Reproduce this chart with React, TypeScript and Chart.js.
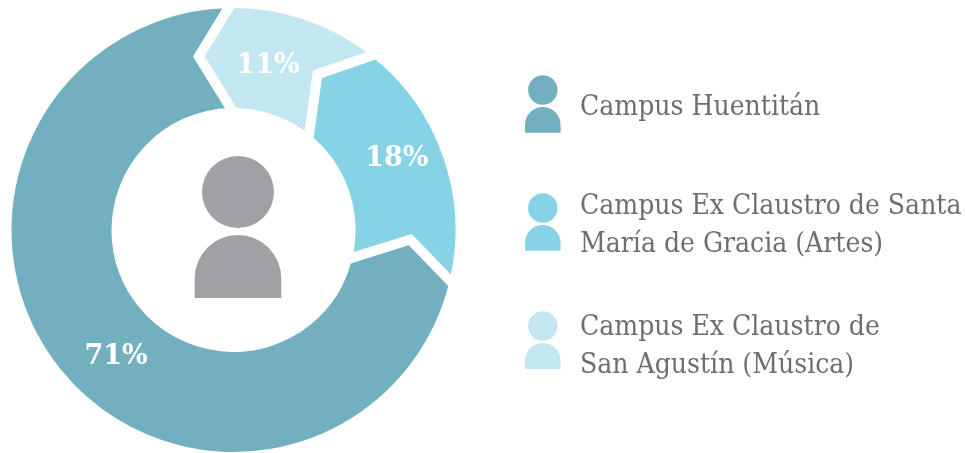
import React, { useEffect, useRef } from "react";
import { Chart, registerables } from "chart.js";

Chart.register(...registerables);

const campusLabels = [
  "Campus Ex Claustro de San Agustín (Música)",
  "Campus Ex Claustro de Santa María de Gracia (Artes)",
  "Campus Huentitán",
];
const shares = [11, 18, 71];
const shareLabels = ["11%", "18%", "71%"];
const sliceColors = ["#c2e7f0", "#87d3e6", "#72b0bf"];
const legendOrder = [2, 1, 0];
const legendLines = [
  ["Campus Ex Claustro de", "San Agustín (Música)"],
  ["Campus Ex Claustro de Santa", "María de Gracia (Artes)"],
  ["Campus Huentitán"],
];

const RAD = Math.PI / 180;
const TEXT_FONT = '28px "DejaVu Serif Condensed"';
const PCT_FONT = 'bold 27px "DejaVu Serif"';

function person(ctx: CanvasRenderingContext2D, cx: number, headY: number, headR: number, bodyR: number, bodyTop: number, bodyBottom: number, color: string) {
  ctx.fillStyle = color;
  ctx.beginPath();
  ctx.arc(cx, headY, headR, 0, Math.PI * 2);
  ctx.fill();
  ctx.beginPath();
  ctx.moveTo(cx - bodyR, bodyBottom);
  ctx.lineTo(cx - bodyR, bodyTop + bodyR);
  ctx.arc(cx, bodyTop + bodyR, bodyR, Math.PI, 0);
  ctx.lineTo(cx + bodyR, bodyBottom);
  ctx.closePath();
  ctx.fill();
}

const chevronPlugin = {
  id: "chevrons",
  afterDatasetsDraw(chart: any) {
    const ctx: CanvasRenderingContext2D = chart.ctx;
    const arcs = chart.getDatasetMeta(0).data;
    ctx.save();
    const tipBack = 10 * RAD;
    const pt = (a: any, r: number, ang: number) => [a.x + r * Math.cos(ang), a.y + r * Math.sin(ang)];
    arcs.forEach((a: any, i: number) => {
      const p = a.getProps(["x", "y", "startAngle", "endAngle", "innerRadius", "outerRadius"], true);
      const tip = pt(p, 177, p.startAngle - tipBack);
      const out = pt(p, p.outerRadius, p.startAngle + RAD);
      const inn = pt(p, p.innerRadius + 2, p.startAngle + RAD);
      ctx.fillStyle = sliceColors[i];
      ctx.beginPath();
      ctx.moveTo(out[0], out[1]);
      ctx.lineTo(tip[0], tip[1]);
      ctx.lineTo(inn[0], inn[1]);
      ctx.closePath();
      ctx.fill();
    });
    arcs.forEach((a: any) => {
      const p = a.getProps(["x", "y", "startAngle", "endAngle", "innerRadius", "outerRadius"], true);
      const tip = pt(p, 177, p.startAngle - tipBack);
      const out = pt(p, p.outerRadius, p.startAngle);
      const inn = pt(p, p.innerRadius, p.startAngle);
      const ext = (q: number[]) => [q[0] + (q[0] - tip[0]) * 0.15, q[1] + (q[1] - tip[1]) * 0.15];
      const o2 = ext(out);
      const i2 = ext(inn);
      ctx.strokeStyle = "#ffffff";
      ctx.lineWidth = 10;
      ctx.lineJoin = "miter";
      ctx.miterLimit = 10;
      ctx.lineCap = "butt";
      ctx.beginPath();
      ctx.moveTo(o2[0], o2[1]);
      ctx.lineTo(tip[0], tip[1]);
      ctx.lineTo(i2[0], i2[1]);
      ctx.stroke();
    });
    const labelAngleShift = [-6.8, -4.9, -7.5];
    const labelRadius = [170, 179, 171];
    ctx.fillStyle = "#ffffff";
    ctx.font = PCT_FONT;
    ctx.textAlign = "center";
    ctx.textBaseline = "middle";
    arcs.forEach((a: any, i: number) => {
      const p = a.getProps(["x", "y", "startAngle", "endAngle"], true);
      const mid = (p.startAngle + p.endAngle) / 2 + labelAngleShift[i] * RAD;
      ctx.fillText(shareLabels[i], p.x + labelRadius[i] * Math.cos(mid), p.y + labelRadius[i] * Math.sin(mid) + 2.5);
    });
    person(ctx, 238, 192, 36, 43.3, 235, 298, "#a0a1a5");
    const rows = [
      { headY: 90, bodyTop: 107, bodyBottom: 132.7, baselines: [115] },
      { headY: 208, bodyTop: 225, bodyBottom: 250.7, baselines: [214, 252] },
      { headY: 326, bodyTop: 343, bodyBottom: 369, baselines: [335, 373] },
    ];
    ctx.textAlign = "left";
    ctx.textBaseline = "alphabetic";
    rows.forEach((row, r) => {
      const idx = legendOrder[r];
      person(ctx, 542.8, row.headY, 14.7, 17.8, row.bodyTop, row.bodyBottom, sliceColors[idx]);
      ctx.fillStyle = "#6d6e71";
      ctx.font = TEXT_FONT;
      legendLines[idx].forEach((line, k) => ctx.fillText(line, 580, row.baselines[k]));
    });
    ctx.restore();
  },
};

export default function App() {
  const ref = useRef<HTMLCanvasElement>(null);
  useEffect(() => {
    document.body.style.margin = "0";
    const chart = new Chart(ref.current as HTMLCanvasElement, {
      type: "doughnut",
      data: {
        labels: campusLabels,
        datasets: [{ data: shares, backgroundColor: sliceColors, borderWidth: 0 }],
      },
      options: {
        responsive: false,
        animation: false,
        rotation: -1.3,
        cutout: 122,
        layout: { padding: { left: 11.5, top: 8, right: 509.5, bottom: 1 } },
        plugins: { legend: { display: false }, tooltip: { enabled: false } },
        events: [],
      },
      plugins: [chevronPlugin],
    } as any);
    return () => chart.destroy();
  }, []);
  return <canvas ref={ref} width={965} height={453} style={{ display: "block" }} />;
}
